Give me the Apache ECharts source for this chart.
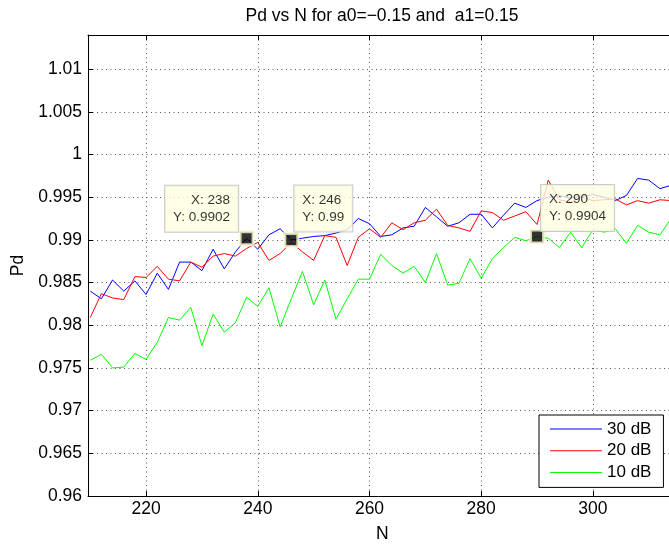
<!DOCTYPE html>
<html>
<head>
<meta charset="utf-8">
<title>Pd vs N</title>
<script src="https://cdn.jsdelivr.net/npm/echarts@6/dist/echarts.min.js"></script>
<style>
  html, body { margin: 0; padding: 0; background: #fff; }
  #chart { width: 669px; height: 546px; }
</style>
</head>
<body>
<div id="chart"></div>
<script>
// Number of samples N
const N = [210, 212, 214, 216, 218, 220, 222, 224, 226, 228, 230, 232, 234, 236, 238, 240, 242, 244,
           246, 248, 250, 252, 254, 256, 258, 260, 262, 264, 266, 268, 270, 272, 274, 276, 278, 280,
           282, 284, 286, 288, 290, 292, 294, 296, 298, 300, 302, 304, 306, 308, 310, 312, 314];

// Probability of detection per SNR
const pd30 = [0.9840, 0.9831, 0.9853, 0.9840, 0.9852, 0.9836, 0.9861, 0.9842, 0.9874, 0.9874, 0.9864,
              0.9889, 0.9866, 0.9886, 0.9902, 0.9889, 0.9906, 0.9913, 0.9900, 0.9902, 0.9904, 0.9905,
              0.9908, 0.9912, 0.9925, 0.9919, 0.9904, 0.9906, 0.9914, 0.9916, 0.9938, 0.9927, 0.9916,
              0.9920, 0.9930, 0.9930, 0.9914, 0.9929, 0.9943, 0.9938, 0.9946, 0.9950, 0.9952, 0.9949,
              0.9951, 0.9953, 0.9950, 0.9946, 0.9952, 0.9972, 0.9970, 0.9960, 0.9964];
const pd20 = [0.9809, 0.9837, 0.9832, 0.9830, 0.9857, 0.9856, 0.9869, 0.9854, 0.9852, 0.9874, 0.9868,
              0.9881, 0.9884, 0.9881, 0.9890, 0.9897, 0.9876, 0.9884, 0.9897, 0.9886, 0.9876, 0.9905,
              0.9903, 0.9870, 0.9903, 0.9913, 0.9903, 0.9920, 0.9912, 0.9920, 0.9923, 0.9936, 0.9917,
              0.9914, 0.9910, 0.9934, 0.9932, 0.9923, 0.9928, 0.9933, 0.9918, 0.9970, 0.9947, 0.9944,
              0.9950, 0.9946, 0.9947, 0.9948, 0.9941, 0.9946, 0.9943, 0.9947, 0.9946];
const pd10 = [0.9759, 0.9766, 0.9750, 0.9751, 0.9767, 0.9760, 0.9780, 0.9809, 0.9806, 0.9821, 0.9776,
              0.9813, 0.9792, 0.9803, 0.9833, 0.9822, 0.9844, 0.9798, 0.9831, 0.9863, 0.9824, 0.9853,
              0.9807, 0.9831, 0.9854, 0.9854, 0.9883, 0.9870, 0.9861, 0.9869, 0.9850, 0.9884, 0.9847,
              0.9849, 0.9878, 0.9855, 0.9878, 0.9891, 0.9903, 0.9899, 0.9904, 0.9902, 0.9891, 0.9909,
              0.9891, 0.9912, 0.9909, 0.9913, 0.9896, 0.9917, 0.9909, 0.9906, 0.9925];

const seriesNames = ['30 dB', '20 dB', '10 dB'];
const seriesColors = ['#0000ff', '#ff0000', '#00ff00'];

// Data cursors
const tipN  = [238, 246, 290];
const tipPd = [0.9902, 0.99, 0.9904];

// Axis ticks
const xTicks = [220, 240, 260, 280, 300];
const yTicks = [0.96, 0.965, 0.97, 0.975, 0.98, 0.985, 0.99, 0.995, 1, 1.005, 1.01];

const FONT = '"Liberation Sans", Arial, Helvetica, sans-serif';

const toPairs = (xs, ys) => xs.map((x, i) => [x, ys[i]]);

// where each data-cursor box sits relative to its marker
const tipPlacement = [
  { position: [-0.5, 1.5], align: 'right' },
  { position: [11, -0.5], align: 'left' },
  { position: [12, 2.5], align: 'left' }
];

const gridLine = { show: true, lineStyle: { color: '#555', width: 1, type: [1, 3.5] } };
const blackLine = { show: true, lineStyle: { color: '#000', width: 1 } };

const chart = echarts.init(document.getElementById('chart'), null, { renderer: 'canvas' });

chart.setOption({
  animation: false,
  backgroundColor: '#fff',
  textStyle: { fontFamily: FONT },
  title: {
    text: 'Pd vs N for a0=\u22120.15 and  a1=0.15',
    left: 382,
    top: 7,
    textAlign: 'center',
    padding: 0,
    textStyle: { fontFamily: FONT, fontSize: 17.5, fontWeight: 'normal', color: '#000' }
  },
  grid: { left: 88, top: 35, width: 588.7, height: 461, containLabel: false, outerBoundsMode: 'none' },
  legend: {
    data: seriesNames,
    orient: 'vertical',
    left: 539,
    top: 415,
    icon: 'rect',
    itemWidth: 52,
    itemHeight: 1,
    itemGap: 1.7,
    padding: [4, 12, 5, 11],
    borderColor: '#000',
    borderWidth: 1,
    backgroundColor: '#fff',
    selectedMode: false,
    textStyle: { fontFamily: FONT, fontSize: 17, color: '#000', lineHeight: 20 }
  },
  xAxis: [
    {
      type: 'value',
      min: 209.6,
      max: 315,
      position: 'bottom',
      name: 'N',
      nameLocation: 'middle',
      nameGap: 29,
      nameTextStyle: { fontFamily: FONT, fontSize: 17.5, color: '#000' },
      axisLine: blackLine,
      axisTick: { show: true, inside: true, length: 5, customValues: xTicks, lineStyle: { color: '#000' } },
      axisLabel: { show: true, customValues: xTicks, margin: 4, fontFamily: FONT, fontSize: 17.5, color: '#000' },
      splitLine: gridLine
    },
    {
      type: 'value',
      min: 209.6,
      max: 315,
      position: 'top',
      axisLine: blackLine,
      axisTick: { show: true, inside: true, length: 5, customValues: xTicks, lineStyle: { color: '#000' } },
      axisLabel: { show: false },
      splitLine: { show: false }
    }
  ],
  yAxis: [
    {
      type: 'value',
      min: 0.96,
      max: 1.014,
      position: 'left',
      name: 'Pd',
      nameLocation: 'middle',
      nameGap: 59,
      nameTextStyle: { fontFamily: FONT, fontSize: 17.5, color: '#000' },
      axisLine: blackLine,
      axisTick: { show: true, inside: true, length: 5, customValues: yTicks, lineStyle: { color: '#000' } },
      axisLabel: { show: true, customValues: yTicks, margin: 6, fontFamily: FONT, fontSize: 17.5, color: '#000' },
      splitLine: gridLine
    },
    {
      type: 'value',
      min: 0.96,
      max: 1.014,
      position: 'right',
      axisLine: blackLine,
      axisTick: { show: true, inside: true, length: 5, customValues: yTicks, lineStyle: { color: '#000' } },
      axisLabel: { show: false },
      splitLine: { show: false }
    }
  ],
  series: [
    ...[pd30, pd20, pd10].map((ys, i) => ({
      name: seriesNames[i],
      type: 'line',
      xAxisIndex: 0,
      yAxisIndex: 0,
      data: toPairs(N, ys),
      showSymbol: false,
      symbol: 'none',
      color: seriesColors[i],
      lineStyle: { color: seriesColors[i], width: 1 },
      emphasis: { disabled: true },
      z: 2
    })),
    {
      name: 'cursor',
      type: 'scatter',
      xAxisIndex: 0,
      yAxisIndex: 0,
      symbol: 'rect',
      symbolSize: 13,
      z: 10,
      itemStyle: { color: '#000', borderColor: '#fafad2', borderWidth: 3 },
      emphasis: { disabled: true },
      data: tipN.map((n, i) => ({
        value: [n, tipPd[i]],
        label: {
          position: tipPlacement[i].position,
          align: tipPlacement[i].align,
          verticalAlign: 'bottom'
        }
      })),
      label: {
        show: true,
        formatter: p => 'X: ' + p.value[0] + '\nY: ' + p.value[1],
        fontFamily: FONT,
        fontSize: 13.5,
        lineHeight: 17,
        color: '#000',
        backgroundColor: '#ffffe1',
        borderColor: '#bdbdbd',
        borderWidth: 1,
        padding: [6, 8]
      }
    }
  ]
});
</script>
</body>
</html>
